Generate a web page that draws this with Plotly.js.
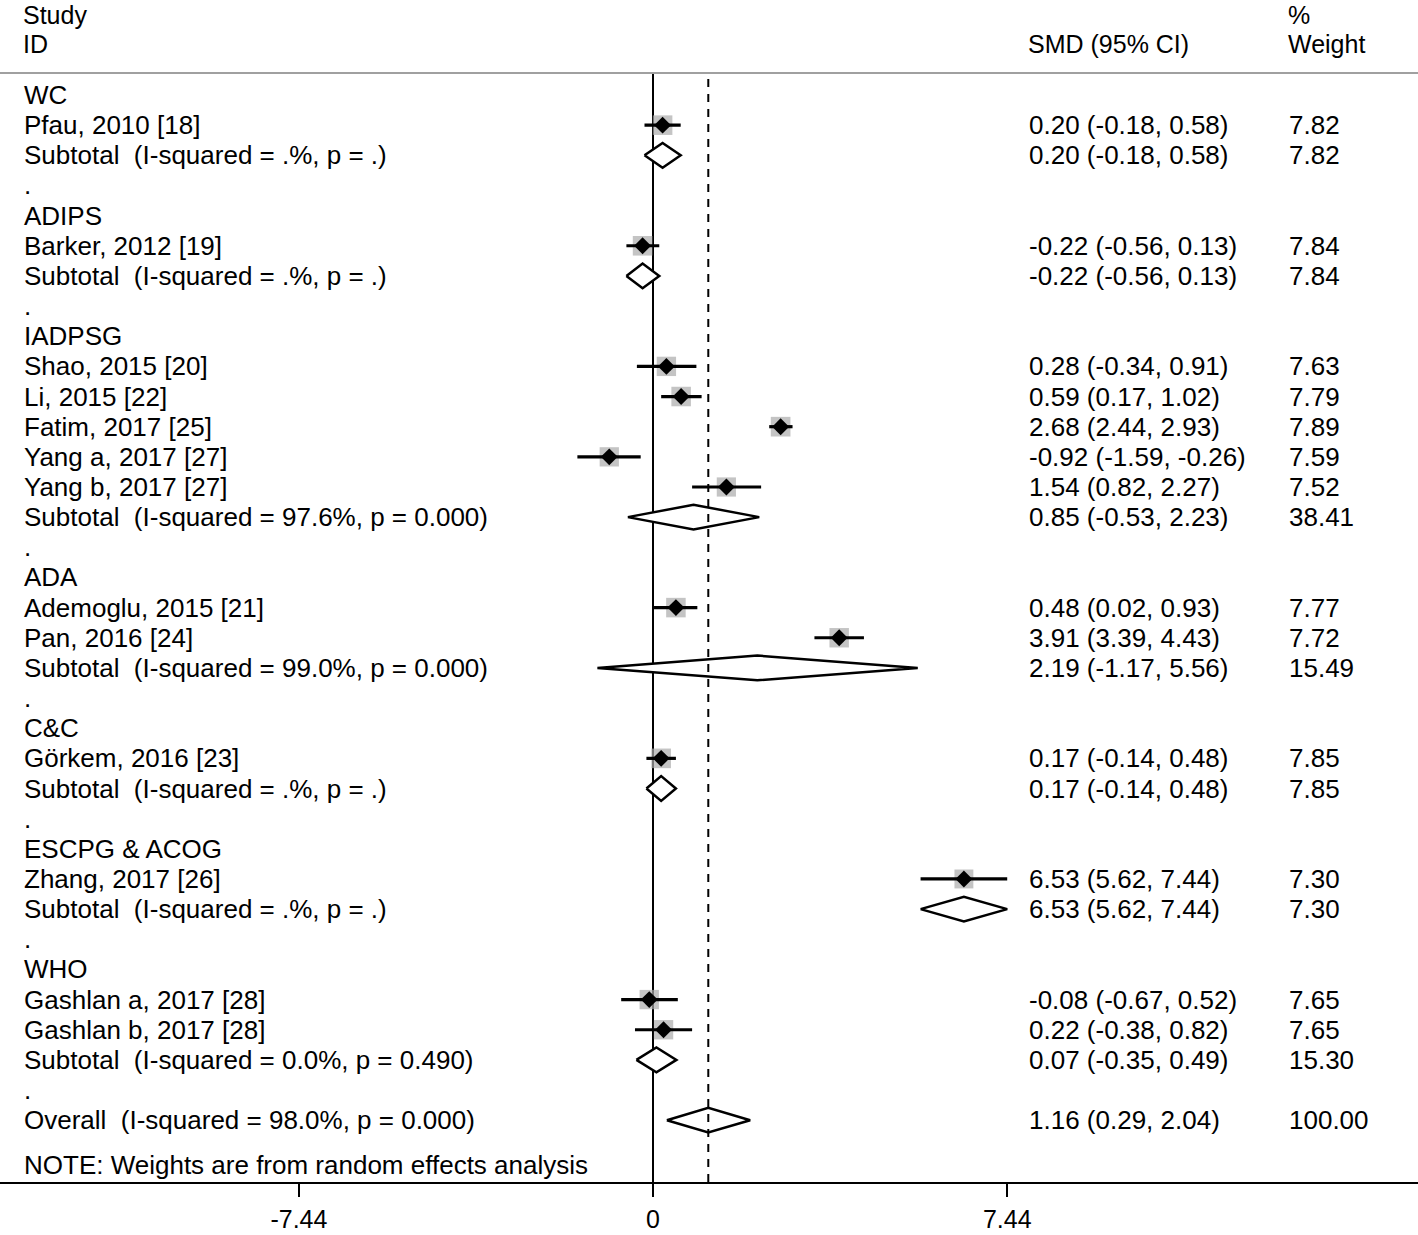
<!DOCTYPE html>
<html><head><meta charset="utf-8">
<script src="https://cdn.plot.ly/plotly-3.0.1.min.js"></script>
<style>html,body{margin:0;padding:0;background:#fff}</style>
</head><body><div id="chart" style="width:1418px;height:1235px"></div>
<script>
// ---- data ----
var rowLabels = ["WC","Pfau, 2010 [18]","Subtotal\u00a0 (I-squared = .%, p = .)",".",
 "ADIPS","Barker, 2012 [19]","Subtotal\u00a0 (I-squared = .%, p = .)",".",
 "IADPSG","Shao, 2015 [20]","Li, 2015 [22]","Fatim, 2017 [25]","Yang a, 2017 [27]","Yang b, 2017 [27]","Subtotal\u00a0 (I-squared = 97.6%, p = 0.000)",".",
 "ADA","Ademoglu, 2015 [21]","Pan, 2016 [24]","Subtotal\u00a0 (I-squared = 99.0%, p = 0.000)",".",
 "C&C","Görkem, 2016 [23]","Subtotal\u00a0 (I-squared = .%, p = .)",".",
 "ESCPG & ACOG","Zhang, 2017 [26]","Subtotal\u00a0 (I-squared = .%, p = .)",".",
 "WHO","Gashlan a, 2017 [28]","Gashlan b, 2017 [28]","Subtotal\u00a0 (I-squared = 0.0%, p = 0.490)",".",
 "Overall\u00a0 (I-squared = 98.0%, p = 0.000)"];
var rowKind = ["g","s","p","b","g","s","p","b","g","s","s","s","s","s","p","b","g","s","s","p","b","g","s","p","b","g","s","p","b","g","s","s","p","b","o"];
var est = [null,0.20,0.20,null,null,-0.22,-0.22,null,null,0.28,0.59,2.68,-0.92,1.54,0.85,null,null,0.48,3.91,2.19,null,null,0.17,0.17,null,null,6.53,6.53,null,null,-0.08,0.22,0.07,null,1.16];
var lo  = [null,-0.18,-0.18,null,null,-0.56,-0.56,null,null,-0.34,0.17,2.44,-1.59,0.82,-0.53,null,null,0.02,3.39,-1.17,null,null,-0.14,-0.14,null,null,5.62,5.62,null,null,-0.67,-0.38,-0.35,null,0.29];
var hi  = [null,0.58,0.58,null,null,0.13,0.13,null,null,0.91,1.02,2.93,-0.26,2.27,2.23,null,null,0.93,4.43,5.56,null,null,0.48,0.48,null,null,7.44,7.44,null,null,0.52,0.82,0.49,null,2.04];
var wt  = [null,7.82,7.82,null,null,7.84,7.84,null,null,7.63,7.79,7.89,7.59,7.52,38.41,null,null,7.77,7.72,15.49,null,null,7.85,7.85,null,null,7.30,7.30,null,null,7.65,7.65,15.30,null,100.00];
var tickVals = [-7.44, 0, 7.44];
var tickText = ["-7.44","0","7.44"];
var headLeft = ["Study","ID"];
var headSMD = "SMD (95% CI)";
var headWeight = ["%","Weight"];
var noteText = "NOTE: Weights are from random effects analysis";

// ---- build ----
var FONT = "Liberation Sans, Arial, sans-serif";
var FS = 26;
var sx=[],sy=[],se=[],sem=[],sw=[];
var dx=[],dy=[];
var overallEst=null;
var hh = 0.41;
rowKind.forEach(function(k,i){
  if(k==="s"){
    sx.push(est[i]); sy.push(i); se.push(hi[i]-est[i]); sem.push(est[i]-lo[i]);
    sw.push(7.0*Math.sqrt(wt[i]));
  }
  if(k==="p"||k==="o"){
    dx.push(lo[i],est[i],hi[i],est[i],lo[i],null);
    dy.push(i,i-hh,i,i+hh,i,null);
  }
  if(k==="o") overallEst=est[i];
});
var traces = [
  {type:"scatter",mode:"markers",x:sx,y:sy,marker:{symbol:"square",size:sw,color:"#ababab",line:{width:0}},hoverinfo:"skip",cliponaxis:false},
  {type:"scatter",mode:"markers",x:sx,y:sy,error_x:{type:"data",symmetric:false,array:se,arrayminus:sem,width:0,thickness:3.2,color:"#000"},
   marker:{symbol:"diamond",size:13,color:"#000"},hoverinfo:"skip"},
  {type:"scatter",mode:"lines",x:dx,y:dy,fill:"toself",fillcolor:"#fff",line:{color:"#000",width:2.5},hoverinfo:"skip",connectgaps:false}
];
var ann=[];
function A(x,y,t,yref,fs){ann.push({xref:"paper",yref:yref||"y",x:x,y:y,text:t,showarrow:false,xanchor:"left",yanchor:"middle",borderpad:fs?0:1,font:{family:FONT,size:fs||FS,color:"#000"}});}
var xL=22/1418, xS=1027/1418, xW=1287/1418;
rowLabels.forEach(function(t,i){
  A(xL,i,t);
  if(est[i]!==null){
    A(xS,i,est[i].toFixed(2)+" ("+lo[i].toFixed(2)+", "+hi[i].toFixed(2)+")");
    A(xW,i,wt[i].toFixed(2));
  }
});
var HF = 25;
var yH1 = 1+58/1109, yH2 = 1+29/1109;
A(xL,yH1,headLeft[0],"paper",HF); A(xL,yH2,headLeft[1],"paper",HF);
A(xS,yH2,headSMD,"paper",HF);
A(xW,yH1,headWeight[0],"paper",HF); A(xW,yH2,headWeight[1],"paper",HF);
A(xL,35.5,noteText);

var layout = {
  width:1418,height:1235,margin:{l:0,r:0,t:73,b:53},
  paper_bgcolor:"#fff",plot_bgcolor:"#fff",showlegend:false,
  xaxis:{range:[-13.72,16.07],tickvals:tickVals,ticktext:tickText,showgrid:false,
    zeroline:true,zerolinecolor:"#000",zerolinewidth:2,
    showline:true,linecolor:"#000",linewidth:2,ticks:"outside",ticklen:13,tickwidth:2,tickcolor:"#000",
    ticklabelstandoff:1,
    tickfont:{family:FONT,size:25,color:"#000"},fixedrange:true},
  yaxis:{range:[36.05,-0.73],visible:false,fixedrange:true},
  annotations:ann,
  shapes:[
    {type:"line",xref:"paper",yref:"paper",x0:0,x1:1,y0:1,y1:1,line:{color:"#a0a0a0",width:2}},
    {type:"line",xref:"x",yref:"paper",x0:overallEst,x1:overallEst,y0:0,y1:1,line:{color:"#000",width:2,dash:"8px,7px"}}
  ]
};
Plotly.newPlot("chart",traces,layout,{staticPlot:true});
</script></body></html>
